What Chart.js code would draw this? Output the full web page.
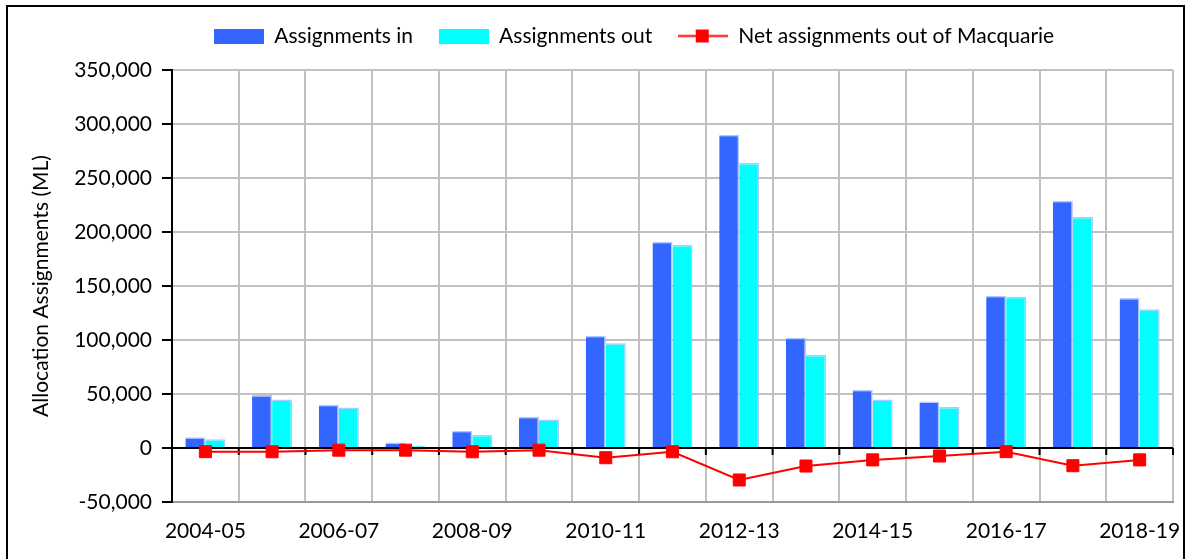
<!DOCTYPE html>
<html>
<head>
<meta charset="utf-8">
<script src="https://cdn.jsdelivr.net/npm/chart.js@4.4.1/dist/chart.umd.min.js"></script>
<style>
  body { margin: 0; background: #fff; }
  #frame { position: absolute; left: 6px; top: 5px; width: 1175px; height: 570px;
           border: 2px solid #000; border-bottom: none; }
  #wrap { position: absolute; left: 0; top: 0; width: 1185px; height: 559px; }
</style>
</head>
<body>
<div id="frame"></div>
<div id="wrap"><canvas id="chart" width="1185" height="559"></canvas></div>
<script>
// Dados (ML)
const years = ['2004-05', '2005-06', '2006-07', '2007-08', '2008-09', '2009-10', '2010-11',
  '2011-12', '2012-13', '2013-14', '2014-15', '2015-16', '2016-17', '2017-18', '2018-19'];
const assignmentsIn = [10000, 49000, 40000, 5000, 16000, 29000, 104000, 191000, 290000,
  102000, 54000, 43000, 141000, 229000, 139000];
const assignmentsOut = [8000, 45000, 37500, 2000, 12000, 26500, 97000, 188000, 264000,
  86000, 45000, 38000, 140000, 214000, 128500];
const netOut = [-3400, -3500, -2000, -2000, -3500, -2000, -9000, -3500, -29600,
  -16700, -11000, -7400, -3400, -16400, -11000];

const FONT = 'Lato, "Open Sans", sans-serif';
const FS = 21;
const BLUE = '#3366FF';
const CYAN = '#00FFFF';
const RED = '#FF0000';

// ícones da legenda
function legendIcon(draw) {
  const c = document.createElement('canvas');
  c.width = 50; c.height = 15;
  draw(c.getContext('2d'));
  return c;
}
const iconIn = legendIcon(ctx => { ctx.fillStyle = BLUE; ctx.fillRect(0, 0, 50, 15); });
const iconOut = legendIcon(ctx => { ctx.fillStyle = CYAN; ctx.fillRect(0, 0, 50, 15); });
const iconNet = legendIcon(ctx => {
  ctx.strokeStyle = RED; ctx.lineWidth = 2;
  ctx.beginPath(); ctx.moveTo(0, 7.5); ctx.lineTo(50, 7.5); ctx.stroke();
  ctx.fillStyle = RED; ctx.fillRect(18, 1, 13, 13);
});

// marcas de escala no eixo zero
const zeroTicks = {
  id: 'zeroTicks',
  beforeDatasetsDraw(chart) {
    const x = chart.scales.x, y = chart.scales.y;
    const y0 = y.getPixelForValue(0);
    const ctx = chart.ctx;
    const step = x.getPixelForValue(1) - x.getPixelForValue(0);
    ctx.save();
    ctx.strokeStyle = '#000';
    ctx.lineWidth = 2;
    ctx.beginPath();
    for (let i = 0; i < years.length; i++) {
      const edge = x.getPixelForValue(i) + step / 2;
      ctx.moveTo(edge, y0);
      ctx.lineTo(edge, y0 + 7);
    }
    ctx.stroke();
    ctx.restore();
  }
};

// desloca a legenda para a direita, como no original
const legendShift = {
  id: 'legendShift',
  afterLayout(chart) {
    const lg = chart.legend;
    const dx = 634 - (lg.left + lg.right) / 2;
    lg.left += dx;
    lg.right += dx;
  }
};

new Chart(document.getElementById('chart'), {
  type: 'bar',
  data: {
    labels: years,
    datasets: [
      {
        label: 'Assignments in',
        data: assignmentsIn,
        backgroundColor: BLUE,
        borderColor: 'rgba(170,195,255,0.9)',
        borderWidth: { top: 1.5, right: 1.5, left: 0, bottom: 0 },
        barPercentage: 1,
        categoryPercentage: 0.6,
        order: 1
      },
      {
        label: 'Assignments out',
        data: assignmentsOut,
        backgroundColor: CYAN,
        borderColor: 'rgba(160,200,255,0.9)',
        borderWidth: { top: 1.5, right: 1.5, left: 0, bottom: 0 },
        barPercentage: 1,
        categoryPercentage: 0.6,
        order: 1
      },
      {
        type: 'line',
        label: 'Net assignments out of Macquarie',
        data: netOut,
        borderColor: RED,
        backgroundColor: RED,
        borderWidth: 2,
        tension: 0,
        pointStyle: 'rect',
        pointRadius: 8.5,
        pointBorderWidth: 1,
        order: 0
      }
    ]
  },
  options: {
    responsive: false,
    animation: false,
    layout: { padding: { top: 0, right: 12, left: 0, bottom: 0 } },
    plugins: {
      tooltip: { enabled: false },
      subtitle: {
        display: true,
        text: ' ',
        position: 'top',
        weight: 500,
        font: { size: 1 },
        padding: { top: 0, bottom: 12.3 }
      },
      legend: {
        position: 'top',
        labels: {
          font: { family: FONT, size: FS },
          color: '#000',
          usePointStyle: true,
          pointStyleWidth: 50,
          padding: 25.5,
          sort: (a, b) => a.datasetIndex - b.datasetIndex,
          generateLabels: chart => chart.data.datasets.map((ds, i) => ({
            text: ds.label,
            pointStyle: [iconIn, iconOut, iconNet][i],
            fillStyle: 'transparent',
            strokeStyle: 'transparent',
            lineWidth: 0,
            fontColor: '#000',
            datasetIndex: i,
            hidden: false
          }))
        }
      }
    },
    scales: {
      x: {
        offset: true,
        grid: {
          offset: true,
          color: '#c0c0c0',
          lineWidth: 2,
          drawTicks: false
        },
        border: { color: '#999', width: 2 },
        ticks: {
          autoSkip: false,
          maxRotation: 0,
          padding: 17,
          color: '#000',
          font: { family: FONT, size: FS },
          callback: (v, i) => (i % 2 === 0 ? years[i] : '')
        },
        afterFit: scale => {
          scale.height = 57;
          scale.paddingLeft = 0;
          scale.paddingRight = 0;
        }
      },
      y: {
        min: -50000,
        max: 350000,
        ticks: {
          stepSize: 50000,
          padding: 10,
          color: '#000',
          font: { family: FONT, size: FS },
          callback: v => v.toLocaleString('en-US')
        },
        grid: {
          color: ctx => (ctx.tick && ctx.tick.value === 0 ? '#000' : '#c0c0c0'),
          lineWidth: 2,
          tickColor: '#000',
          tickLength: 10
        },
        border: { color: '#000', width: 2 },
        title: {
          display: true,
          text: 'Allocation Assignments (ML)',
          color: '#000',
          font: { family: FONT, size: FS },
          padding: { top: 29, bottom: 0 }
        },
        afterFit: scale => { scale.width = 172; }
      }
    }
  },
  plugins: [zeroTicks, legendShift]
});
</script>
</body>
</html>
